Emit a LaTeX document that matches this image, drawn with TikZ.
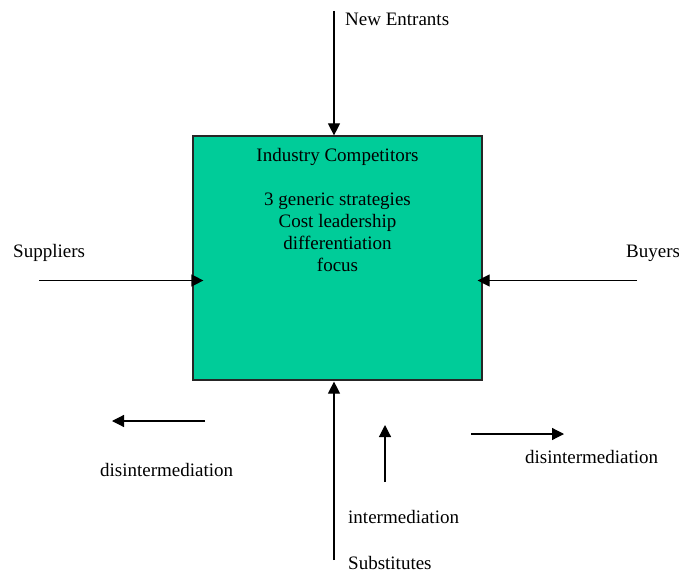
\documentclass[tikz,border=0pt]{standalone}
\usepackage{fontspec}
\setmainfont{Liberation Serif}
\usetikzlibrary{arrows.meta}
\definecolor{boxgreen}{HTML}{00CC99}
\tikzset{
  compbox/.style={draw=black!85, line width=1.2pt, fill=boxgreen, minimum width=289pt, minimum height=244pt, inner sep=0pt},
  arr/.style={line width=1.2pt, -{Triangle[length=12pt,width=12pt]}},
  lbl/.style={anchor=base west, inner sep=0pt, font=\fontsize{19}{22}\selectfont},
  boxtext/.style={anchor=north, inner sep=0pt, align=center, font=\fontsize{19}{22}\selectfont}
}
\begin{document}
\begin{tikzpicture}[x=1pt,y=-1pt]
\useasboundingbox (0,0) rectangle (679,572);
% central box
\node[compbox] (comp) at (337.5,258) {};
\node[boxtext] (comptext) at (337.5,148) {Industry Competitors\\[22pt]3 generic strategies\\Cost leadership\\differentiation\\focus};
% labels
\node[lbl] (newent) at (345,26) {New Entrants};
\node[lbl] (supp) at (13,257) {Suppliers};
\node[lbl] (buy) at (626,257) {Buyers};
\node[lbl] (subst) at (348,569) {Substitutes};
\node[lbl] (interm) at (348,523) {intermediation};
\node[lbl] (disL) at (100,476) {disintermediation};
\node[lbl] (disR) at (525,463) {disintermediation};
% coordinates
\coordinate (neS) at (334,11);
\coordinate (supS) at (39,280.5);
\coordinate (buyS) at (637,280.5);
\coordinate (subS) at (334,560);
\coordinate (dlA) at (205,421);
\coordinate (dlB) at (112,421);
\coordinate (drA) at (471,434);
\coordinate (drB) at (564,434);
\coordinate (imA) at (385,482);
\coordinate (imB) at (385,425);
% arrows
\draw[arr] (neS) -- (neS |- comp.north);
\draw[arr] (supS) -- ([xshift=11pt]comp.west |- supS);
\draw[arr] (buyS) -- ([xshift=-5pt]comp.east |- buyS);
\draw[arr] (subS) -- ([yshift=-1pt]comp.south -| subS);
\draw[arr] (dlA) -- (dlB);
\draw[arr] (drA) -- (drB);
\draw[arr] (imA) -- (imB);
\end{tikzpicture}
\end{document}
